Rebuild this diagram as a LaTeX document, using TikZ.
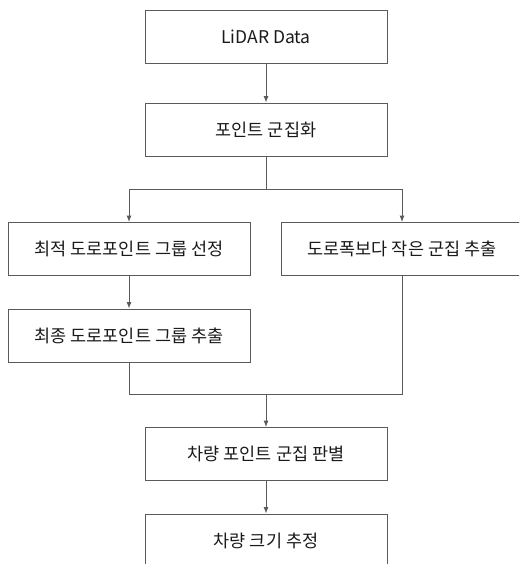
\documentclass[tikz,border=0pt]{standalone}
\usepackage{fontspec}
\setmainfont{Noto Sans CJK KR}
\usetikzlibrary{arrows.meta}
\definecolor{edge}{HTML}{5A5A5A}
\definecolor{txt}{HTML}{1A1A1A}
\tikzset{
  box/.style={draw=edge, line width=0.9pt, rectangle, minimum width=242pt, minimum height=53pt, inner sep=0pt, text=txt, font=\fontsize{17.5}{20}\selectfont},
  conn/.style={draw=edge, line width=0.9pt},
  arr/.style={conn, -{Latex[length=6.5pt,width=5pt]}}
}
\begin{document}
\begin{tikzpicture}[x=1pt,y=-1pt]
\useasboundingbox (0,0) rectangle (519,564);
\clip (0,0) rectangle (519,564);
\node[box] (b1) at (266,37) {LiDAR Data};
\node[box] (b2) at (266,129.5) {포인트 군집화};
\node[box] (b3) at (129,249) {최적 도로포인트 그룹 선정};
\node[box] (b4) at (402,249) {도로폭보다 작은 군집 추출};
\node[box] (b5) at (129,335.5) {최종 도로포인트 그룹 추출};
\node[box] (b6) at (266,454) {차량 포인트 군집 판별};
\node[box] (b7) at (266,540.5) {차량 크기 추정};
\coordinate (split) at (266,189);
\coordinate (join) at (266,394);
\draw[arr] (b1) -- (b2);
\draw[conn] (b2.south) -- (split);
\draw[arr] (split) -| (b3.north);
\draw[arr] (split) -| (b4.north);
\draw[arr] (b3) -- (b5);
\draw[conn] (b5.south) |- (join);
\draw[conn] (b4.south) |- (join);
\draw[arr] (join) -- (b6.north);
\draw[arr] (b6) -- (b7);
\end{tikzpicture}
\end{document}
